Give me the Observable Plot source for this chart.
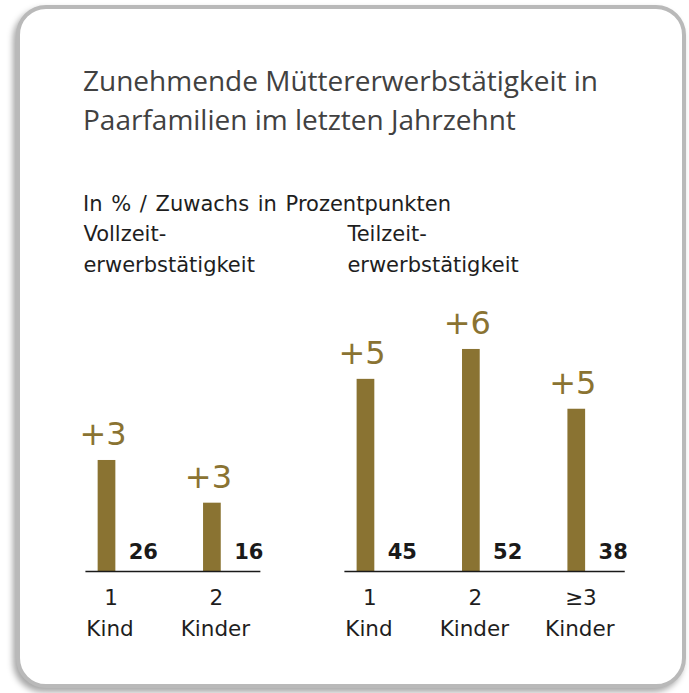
<!DOCTYPE html>
<html>
<head>
<meta charset="utf-8">
<script src="https://cdn.jsdelivr.net/npm/d3@7"></script>
<script src="https://cdn.jsdelivr.net/npm/@observablehq/plot@0.6"></script>
<style>
  html, body { margin: 0; padding: 0; background: #ffffff; }
  body { width: 689px; height: 693px; position: relative; overflow: hidden; }
  .card {
    position: absolute; left: 16px; top: 5px; width: 670px; height: 683px;
    box-sizing: border-box; border: 4px solid #b9b9b9; border-radius: 30px;
    background: #fff; box-shadow: -3px 4px 6px rgba(0,0,0,0.35);
  }
  .title {
    position: absolute; left: 83px; top: 61px; font-family: "Open Sans", sans-serif;
    font-size: 28px; line-height: 39px; color: #414141; white-space: nowrap;
  }
  .sub {
    position: absolute; left: 83px; top: 192px; font-family: "DejaVu Sans", sans-serif;
    font-size: 21px; line-height: 24px; color: #1e1e1e; white-space: nowrap;
    word-spacing: 2px;
  }
  .head {
    position: absolute; top: 219px; font-family: "DejaVu Sans", sans-serif;
    font-size: 21px; line-height: 31px; color: #1e1e1e; white-space: pre;
  }
  #chart { position: absolute; left: 0; top: 0; }
</style>
</head>
<body>
<div class="card"></div>
<div class="title">Zunehmende Müttererwerbstätigkeit in<br>Paarfamilien im letzten Jahrzehnt</div>
<div class="sub">In % / Zuwachs in Prozentpunkten</div>
<div id="heads"></div>
<div id="chart"></div>
<script>
// ---- data ----
const groups = ["Vollzeit", "Vollzeit", "Teilzeit", "Teilzeit", "Teilzeit"];
const groupNames = ["Vollzeit", "Teilzeit"];
const groupTitles = ["Vollzeit-\nerwerbstätigkeit", "Teilzeit-\nerwerbstätigkeit"];
const childCount = ["1", "2", "1", "2", "≥3"];
const childWord = ["Kind", "Kinder", "Kind", "Kinder", "Kinder"];
const shares = [26, 16, 45, 52, 38];          // in %
const increases = [3, 3, 5, 6, 5];            // Zuwachs in Prozentpunkten

// ---- layout (slot units) ----
const groupOffset = {Vollzeit: 0, Teilzeit: 2.457};
const idxInGroup = [];
{
  const c = {};
  groups.forEach(g => { c[g] = (c[g] ?? -1) + 1; idxInGroup.push(c[g]); });
}
const data = groups.map((g, i) => ({
  group: g,
  slot: groupOffset[g] + idxInGroup[i],
  count: childCount[i],
  word: childWord[i],
  share: shares[i],
  inc: increases[i]
}));
const groupData = groupNames.map(g => {
  const s = data.filter(d => d.group === g).map(d => d.slot);
  return {group: g, x1: d3.min(s) - 0.2, x2: d3.max(s) + 0.46};
});

const gold = "#8a7332";
const W = 689, H = 693;
const slotPx = 105.4, firstPx = 106.5, basePx = 571, pxPerUnit = 4.27;

const chart = Plot.plot({
  width: W, height: H,
  marginLeft: 0, marginRight: 0, marginTop: 0, marginBottom: H - basePx,
  x: {type: "linear", domain: [-firstPx / slotPx, (W - firstPx) / slotPx], axis: null},
  y: {domain: [0, basePx / pxPerUnit], axis: null},
  style: {background: "transparent", overflow: "visible"},
  marks: [
    Plot.rectY(data, {x1: d => d.slot - 0.084, x2: d => d.slot + 0.084, y: "share", fill: gold}),
    Plot.ruleY(groupData, {x1: "x1", x2: "x2", y: 0, stroke: "#1a1a1a", strokeWidth: 1.5}),
    Plot.text(data, {x: "slot", y: "share", text: d => "+" + d.inc, lineAnchor: "bottom",
      dy: -15, dx: -4, fill: gold, fontSize: 32, fontFamily: "DejaVu Sans"}),
    Plot.text(data, {x: d => d.slot + 0.345, y: 0, text: d => String(d.share), lineAnchor: "bottom",
      dy: -13, fill: "#1a1a1a", fontSize: 21, fontWeight: "bold", fontFamily: "DejaVu Sans"}),
    Plot.text(data, {x: "slot", y: 0, text: "count", lineAnchor: "bottom", dy: 33, dx: 4,
      fill: "#1e1e1e", fontSize: 21.5, fontFamily: "DejaVu Sans"}),
    Plot.text(data, {x: "slot", y: 0, text: "word", lineAnchor: "bottom", dy: 64, dx: 3,
      fill: "#1e1e1e", fontSize: 21.5, fontFamily: "DejaVu Sans"})
  ]
});
document.getElementById("chart").appendChild(chart);

// group headings aligned with group baselines
const heads = document.getElementById("heads");
groupData.forEach((g, i) => {
  const div = document.createElement("div");
  div.className = "head";
  div.style.left = (firstPx + slotPx * g.x1 + (i === 0 ? -2 : 3)) + "px";
  div.textContent = groupTitles[i];
  heads.appendChild(div);
});
</script>
</body>
</html>
